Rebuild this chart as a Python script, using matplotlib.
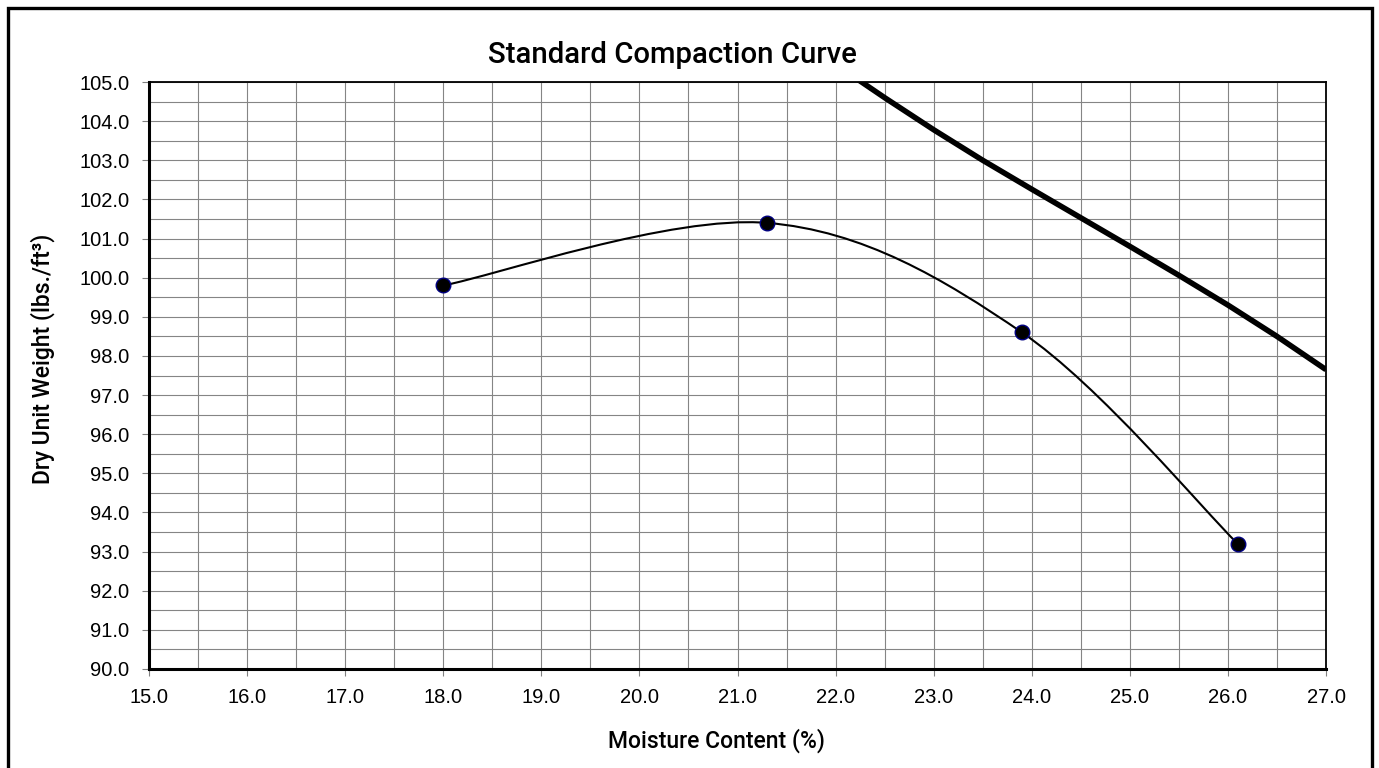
import numpy as np
import matplotlib
matplotlib.use("Agg")
import matplotlib.pyplot as plt
from matplotlib.path import Path
from matplotlib.patches import PathPatch, Rectangle
from matplotlib.ticker import MultipleLocator, FormatStrFormatter

# ---- data ----
moisture = [18.0, 21.3, 23.9, 26.1]
dry_weight = [99.8, 101.4, 98.6, 93.2]

zav_moisture = [22.0, 22.5, 23.0, 23.5, 24.0, 24.5, 25.0, 25.5, 26.0, 26.5, 27.0]
zav_weight = [105.45, 104.6, 103.78, 103.0, 102.26, 101.53, 100.8, 100.06, 99.3, 98.5, 97.65]

title = "Standard Compaction Curve"
xlabel = "Moisture Content (%)"
ylabel = "Dry Unit Weight (lbs./ft³)"

plt.rcParams['font.family'] = ['Liberation Sans', 'DejaVu Sans']

W, H = 1379, 768
fig = plt.figure(figsize=(W / 100, H / 100), dpi=100)
left, right, top, bottom = 149, 1326, 82, 669
ax = fig.add_axes([left / W, 1 - bottom / H, (right - left) / W, (bottom - top) / H])

ax.set_xlim(15, 27)
ax.set_ylim(90, 105)
ax.xaxis.set_major_locator(MultipleLocator(1))
ax.xaxis.set_minor_locator(MultipleLocator(0.5))
ax.yaxis.set_major_locator(MultipleLocator(1))
ax.yaxis.set_minor_locator(MultipleLocator(0.5))
ax.xaxis.set_major_formatter(FormatStrFormatter('%.1f'))
ax.yaxis.set_major_formatter(FormatStrFormatter('%.1f'))

ax.grid(True, which='both', color='#858585', linewidth=0.8)
ax.set_axisbelow(True)

ax.tick_params(which='major', direction='out', length=5, width=0.8, color='#808080',
               labelsize=14.5)
ax.tick_params(axis='x', which='major', pad=9)
ax.tick_params(axis='y', which='major', pad=9)
ax.tick_params(which='minor', length=0)

for s in ['left', 'bottom']:
    ax.spines[s].set_linewidth(2.2)
for s in ['top', 'right']:
    ax.spines[s].set_linewidth(1.3)
for s in ax.spines.values():
    s.set_color('black')

# zero-air-voids line
ax.plot(zav_moisture, zav_weight, color='black', linewidth=4.0, solid_capstyle='butt', zorder=3)

# smoothed curve through points (Catmull-Rom style Bezier, like spreadsheet smoothing)
P = np.column_stack([moisture, dry_weight])
Pext = np.vstack([P[0], P, P[-1]])
verts = [tuple(P[0])]
codes = [Path.MOVETO]
for i in range(1, len(Pext) - 2):
    p0, p1, p2, p3 = Pext[i - 1], Pext[i], Pext[i + 1], Pext[i + 2]
    c1 = p1 + (p2 - p0) / 6.0
    c2 = p2 - (p3 - p1) / 6.0
    verts += [tuple(c1), tuple(c2), tuple(p2)]
    codes += [Path.CURVE4] * 3
ax.add_patch(PathPatch(Path(verts, codes), facecolor='none', edgecolor='black',
                       linewidth=1.5, zorder=4))

ax.plot(moisture, dry_weight, linestyle='none', marker='o', markersize=10.5,
        markerfacecolor='black', markeredgecolor='#000080', markeredgewidth=1.0, zorder=5)

lab_font = ['Roboto', 'DejaVu Sans']
fig.text(672.5 / W, 1 - 55 / H, title, ha='center', va='center', fontsize=21.2,
         family=lab_font, fontweight='medium')
fig.text(717 / W, 1 - 741 / H, xlabel, ha='center', va='center', fontsize=16.5,
         family=lab_font, fontweight='medium')
fig.text(43 / W, 1 - 359 / H, ylabel, ha='center', va='center', rotation=90, fontsize=16.5,
         family=lab_font, fontweight='medium')

fig.patches.append(Rectangle((8 / W, -0.05), (1372 - 8) / W, 1 - 8 / H + 0.05,
                             transform=fig.transFigure, fill=False, edgecolor='black',
                             linewidth=2.4))

fig.savefig("out.png", dpi=100)
